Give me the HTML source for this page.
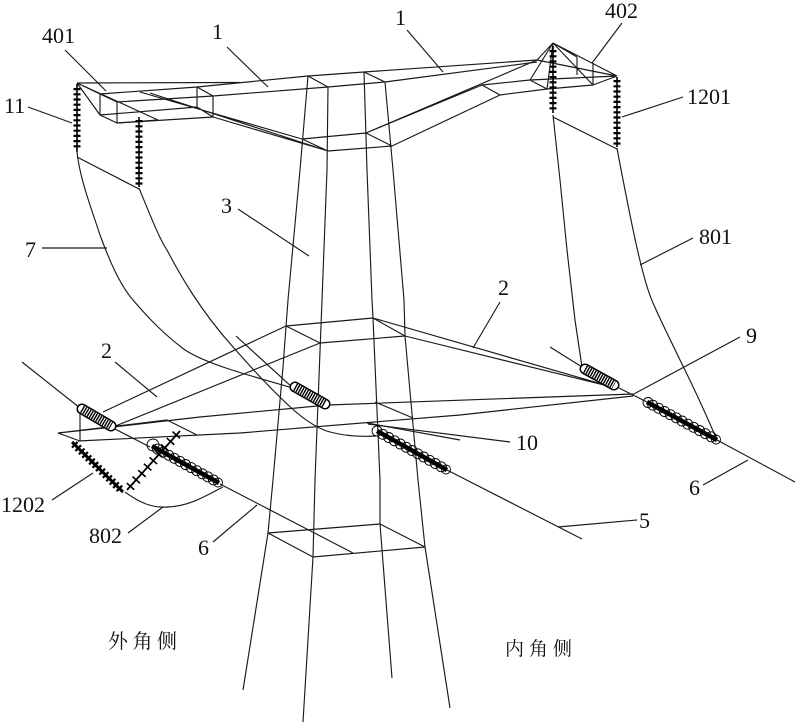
<!DOCTYPE html>
<html><head><meta charset="utf-8">
<style>
html,body{margin:0;padding:0;background:#fff;}
svg{display:block;}
</style></head>
<body>
<svg width="799" height="727" viewBox="0 0 799 727" xmlns="http://www.w3.org/2000/svg">
<rect width="799" height="727" fill="#fff"/>
<g fill="none" stroke="#1a1a1a" stroke-width="1.15" stroke-linejoin="round">
<!-- tower legs -->
<polyline points="308,76 300,170 288,300 283,367 273,480 268,533 243,690"/>
<polyline points="328,87 327,170 322,300 315,480 313,557 303,722"/>
<polyline points="364,72 367,170 372,300 373,318 380,480 380,524 392,678"/>
<polyline points="385,82 393,170 404,300 405,336 418,480 425,547 450,708"/>
<!-- boxes -->
<path d="M308,76 L328,87 M364,72 L385,82"/>
<path d="M302,139 L366,133 L392,146 L328,151 Z"/>
<path d="M286,326 L373,318 L405,336 L320,343 Z"/>
<path d="M268,533 L380,524 L425,547 L313,557 Z"/>
<!-- cross arm 1 -->
<polyline points="100,94 197,87 308,76 364,72 537,60"/>
<polyline points="117,102 213,96 328,87 385,82 537,62"/>
<path d="M77,83 L240,82.5 M77,83 L100,94 M77,83 L100,115 M77,83 L158,120 M117,123 L158,120"/>
<path d="M100,94 L100,115 L117,123 L117,102 Z M100,94 L117,102"/>
<path d="M197,87 L213,96 L213,117 L197,107 Z M100,115 L197,107 M117,123 L213,117"/>
<path d="M140,92 L302,139 M150,93 L328,151 M213,117 L328,151"/>
<path d="M366,133 L482,85 L530,80 M366,133 L537,60 M392,146 L500,95 L547,89 M482,85 L500,95"/>
<!-- 402 -->
<path d="M553,43 L537,60 M553,43 L530,80 M553,43 L547,89 M553,43 L617,76 M553,43 L577,57 M553,43 L593,85"/>
<path d="M537,60 L617,76 M530,80 L617,76 M530,80 L547,89 L593,85 L617,76 M593,63 L593,85 M577,57 L577,75"/>
<!-- connectors under insulators -->
<path d="M77,157 L139,189 M553,117 L617,149"/>
<!-- cable 7 -->
<path d="M77,152 C80,180 92,210 100,235 C110,262 120,285 133,300 C150,320 165,335 185,350 C205,363 240,373 293,388"/>
<!-- jumper from 11b -->
<path d="M139,188 C150,215 160,240 167,250 C180,275 200,310 233,347 C250,366 265,383 283,400 C300,417 315,428 330,432 C345,436 360,437 376,436"/>
<path d="M236,336 L293,388"/>
<!-- right cable from 1201a -->
<path d="M553,115 L560,180 L567,250 L575,320 L582,367"/>
<!-- 801 -->
<path d="M617,148 C620,165 623,180 630,215 C636,245 645,285 653,303 C665,330 672,343 680,360 C695,390 705,412 717,440"/>
<!-- lower cross arm 2 -->
<path d="M103,412 L286,326 M113,427 L320,343"/>
<path d="M373,318 L612,387 M405,336 L612,387"/>
<polyline points="78,441 240,433 460,415 633,396"/>
<polyline points="113,427 200,417 328,405 633,394"/>
<path d="M58,433 L113,427 M58,433 L80,441 M58,433 L167,420 L197,435 M80,408 L80,441"/>
<path d="M375,402 L413,418 M367,423 L460,440"/>
<!-- conductors -->
<path d="M22,362 L80,408 M113,428 L150,447"/>
<path d="M550,347 L582,367 M617,387 L647,402"/>
<path d="M717,440 L795,482"/>
<path d="M447,470 L582,539"/>
<path d="M220,484 L353,553"/>
<!-- 802 -->
<path d="M125,492 C140,503 152,508 168,507 C190,506 205,496 223,487"/>
<!-- leaders -->
<path d="M65,50 L106,91 M227,47 L268,87 M407,30 L443,72 M622,23 L592,63 M28,107 L72,123 M683,97 L622,117 M238,209 L309,256 M42,248 L107,248 M693,238 L640,265 M500,302 L473,348 M740,337 L632,395 M115,362 L157,397 M510,442 L368,424 M703,485 L748,460 M52,500 L93,473 M128,533 L163,507 M213,542 L257,505 M637,520 L558,527"/>
</g>

<!-- disc insulators -->
<g stroke="#000" fill="none">
<line x1="77" y1="84" x2="77" y2="152" stroke-width="1.6"/>
<line x1="77" y1="88" x2="77" y2="150" stroke-width="7" stroke-dasharray="2.2 3"/>
<line x1="139" y1="117" x2="139" y2="187" stroke-width="1.6"/>
<line x1="139" y1="120" x2="139" y2="185" stroke-width="7" stroke-dasharray="2.2 3"/>
<line x1="553" y1="46" x2="553" y2="113" stroke-width="1.6"/>
<line x1="553" y1="50" x2="553" y2="111" stroke-width="7" stroke-dasharray="2.2 3"/>
<line x1="617" y1="77" x2="617" y2="147" stroke-width="1.6"/>
<line x1="617" y1="80" x2="617" y2="145" stroke-width="7" stroke-dasharray="2.2 3"/>
<!-- 1202 left disc string -->
<line x1="72" y1="442" x2="123" y2="492" stroke-width="3"/>
<line x1="74" y1="444" x2="122" y2="491" stroke-width="8" stroke-dasharray="2.2 2.6"/>
<!-- 1202 spiky string -->
<line x1="127" y1="490" x2="180" y2="431" stroke-width="1.8"/>
<line x1="130" y1="487" x2="178" y2="433" stroke-width="10" stroke-dasharray="1.6 7"/>
</g>

<!-- circle insulators -->
<g fill="none" stroke="#000">
<line x1="377" y1="431" x2="447" y2="470" stroke-width="4.5"/>
<line x1="647" y1="402" x2="717" y2="440" stroke-width="4.5"/>
<line x1="152" y1="446" x2="219" y2="483" stroke-width="4.5"/>
<g stroke-width="0.9">
<circle cx="377" cy="431" r="5"/><circle cx="382.8" cy="434.3" r="5"/><circle cx="388.7" cy="437.5" r="5"/><circle cx="394.5" cy="440.8" r="5"/><circle cx="400.3" cy="444" r="5"/><circle cx="406.2" cy="447.3" r="5"/><circle cx="412" cy="450.5" r="5"/><circle cx="417.8" cy="453.8" r="5"/><circle cx="423.7" cy="457" r="5"/><circle cx="429.5" cy="460.3" r="5"/><circle cx="435.3" cy="463.5" r="5"/><circle cx="441.2" cy="466.8" r="5"/><circle cx="446" cy="469.5" r="4.5"/>
<circle cx="648" cy="402.5" r="5"/><circle cx="652.8" cy="405.2" r="5"/><circle cx="658.7" cy="408.3" r="5"/><circle cx="664.5" cy="411.5" r="5"/><circle cx="670.3" cy="414.7" r="5"/><circle cx="676.2" cy="417.8" r="5"/><circle cx="682" cy="421" r="5"/><circle cx="687.8" cy="424.2" r="5"/><circle cx="693.7" cy="427.3" r="5"/><circle cx="699.5" cy="430.5" r="5"/><circle cx="705.3" cy="433.7" r="5"/><circle cx="711.2" cy="436.8" r="5"/><circle cx="716" cy="439.5" r="4.5"/>
<circle cx="153" cy="445" r="6"/><circle cx="157.6" cy="449.1" r="5"/><circle cx="163.2" cy="452.2" r="5"/><circle cx="168.8" cy="455.3" r="5"/><circle cx="174.3" cy="458.3" r="5"/><circle cx="179.9" cy="461.4" r="5"/><circle cx="185.5" cy="464.5" r="5"/><circle cx="191.1" cy="467.6" r="5"/><circle cx="196.7" cy="470.7" r="5"/><circle cx="202.3" cy="473.8" r="5"/><circle cx="207.8" cy="476.8" r="5"/><circle cx="213.4" cy="479.9" r="5"/><circle cx="218" cy="482.5" r="4.5"/>
</g>
</g>

<!-- capsule insulators -->
<g fill="none" stroke-linecap="round">
<line x1="82" y1="409" x2="111" y2="426" stroke="#000" stroke-width="11"/>
<line x1="82" y1="409" x2="111" y2="426" stroke="#fff" stroke-width="8"/>
<line x1="82" y1="409" x2="111" y2="426" stroke="#000" stroke-width="8" stroke-linecap="butt" stroke-dasharray="1.4 1.1"/>
<line x1="295" y1="387" x2="325" y2="404" stroke="#000" stroke-width="11"/>
<line x1="295" y1="387" x2="325" y2="404" stroke="#fff" stroke-width="8"/>
<line x1="295" y1="387" x2="325" y2="404" stroke="#000" stroke-width="8" stroke-linecap="butt" stroke-dasharray="1.4 1.1"/>
<line x1="585" y1="369" x2="614" y2="385" stroke="#000" stroke-width="11"/>
<line x1="585" y1="369" x2="614" y2="385" stroke="#fff" stroke-width="8"/>
<line x1="585" y1="369" x2="614" y2="385" stroke="#000" stroke-width="8" stroke-linecap="butt" stroke-dasharray="1.4 1.1"/>
</g>

<!-- labels -->
<g font-size="22" font-family="'Liberation Serif', 'Times New Roman', serif" fill="#111">
<text x="42" y="43">401</text>
<text x="212" y="39">1</text>
<text x="395" y="25">1</text>
<text x="605" y="18">402</text>
<text x="4" y="113">11</text>
<text x="687" y="104">1201</text>
<text x="221" y="213">3</text>
<text x="25" y="257">7</text>
<text x="699" y="244">801</text>
<text x="498" y="295">2</text>
<text x="746" y="343">9</text>
<text x="101" y="358">2</text>
<text x="516" y="450">10</text>
<text x="689" y="495">6</text>
<text x="1" y="512">1202</text>
<text x="89" y="543">802</text>
<text x="198" y="555">6</text>
<text x="639" y="528">5</text>
</g>
<g font-family="'Liberation Serif', 'Noto Serif CJK SC', 'Noto Sans CJK SC', serif" fill="#111">
<text x="108" y="648" font-size="20" letter-spacing="4.5">外角侧</text>
<text x="505" y="655" font-size="19" letter-spacing="5">内角侧</text>
</g>
</svg>
</body></html>
